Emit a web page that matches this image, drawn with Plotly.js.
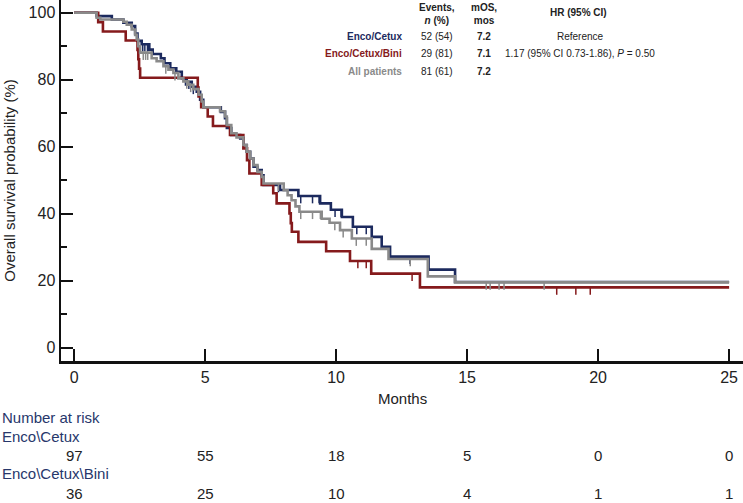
<!DOCTYPE html>
<html>
<head>
<meta charset="utf-8">
<script src="https://cdn.plot.ly/plotly-3.0.1.min.js"></script>
<style>
  html, body { margin: 0; padding: 0; background: #ffffff; }
  #kmChart { width: 743px; height: 503px; }
</style>
</head>
<body>
<div id="kmChart"></div>
<script>
// Kaplan-Meier overall survival

// Enco/Cetux (navy)
const cetuxTime = [0, 0.86, 1.44, 1.88, 2.2, 2.33, 2.42, 2.58, 2.87, 3.0, 3.31, 3.45, 3.67, 3.9, 4.11, 4.3, 4.49, 4.68, 4.81, 4.93,
  5.6, 5.76, 5.83, 6.0, 6.34, 6.46, 6.59, 6.72, 6.85, 7.0, 7.16, 7.23, 7.86, 8.56, 9.39, 9.8, 10.22, 10.64, 11.36, 11.74, 12.06,
  13.53, 14.54, 25];
const cetuxSurv = [100, 99, 98, 97, 96, 93.8, 91.6, 90.6, 89, 87.7, 86.4, 84.9, 83.4, 82.4, 80.4, 79.4, 77.9, 76.4, 74, 71.8,
  70.4, 68.5, 65.6, 63.5, 62.5, 60.5, 58.5, 56.5, 54, 53, 51.5, 48.6, 47.1, 45.3, 43.1, 41.2, 39, 36.1, 33.1, 30.1, 27.2,
  23.3, 19.6, 19.6];
const cetuxCensor = [2.62, 2.7, 2.8, 4.25, 4.38, 4.55, 7.8, 8.65, 9.1, 9.35, 9.96, 10.19, 10.79, 11.15, 12.82];

// Enco/Cetux/Bini (dark red)
const biniTime = [0, 0.92, 1.1, 1.97, 2.42, 2.45, 2.48, 2.52, 4.72, 4.75, 4.85, 5.1, 5.3, 5.95, 6.46, 6.6, 6.69, 7.16, 7.6, 7.73,
  8.22, 8.27, 8.31, 8.56, 9.62, 10.53, 11.34, 13.2, 25];
const biniSurv = [100, 97.2, 94.4, 91.7, 88.9, 86.1, 83.3, 80.6, 77.7, 75, 71.8, 69, 66.2, 63.5, 59.5, 56, 52, 48.6, 46.1, 43.1,
  40.1, 37.2, 34.6, 31.6, 28.8, 25.9, 22.1, 18, 18];
const biniCensor = [10.83, 11.15, 12.9, 18.42, 19.15, 19.7];

// All patients (grey)
const allTime = [0, 0.86, 1.0, 1.88, 2.01, 2.2, 2.33, 2.39, 2.45, 2.52, 2.96, 3.15, 3.41, 3.6, 3.79, 3.98, 4.17, 4.36, 4.55, 4.75,
  4.87, 4.93, 5.57, 5.76, 5.83, 6.0, 6.2, 6.46, 6.59, 6.72, 6.85, 7.0, 7.16, 7.23, 8.0, 8.15, 8.3, 8.45, 8.6, 9.45, 9.75, 10.15,
  10.6, 11.36, 12.0, 13.5, 14.54, 25];
const allSurv = [100, 98.5, 98, 97.3, 96.4, 95, 93.4, 92, 90, 88.1, 86.4, 85.5, 84, 83, 82, 80.4, 79.5, 78.5, 77.2, 75.5,
  73.5, 71.8, 70.6, 69, 66.5, 64, 62.8, 60.5, 58.5, 56.5, 54.5, 52.5, 51, 49, 47, 45.5, 44, 42.2, 40.6, 38.5, 37.3, 35.1,
  32.6, 29.5, 26.5, 21.3, 19.5, 19.5];
const allCensor = [2.64, 2.73, 2.81, 3.5, 3.85, 4.3, 4.45, 7.8, 8.65, 9.1, 9.4, 9.95, 10.27, 10.77, 11.15, 12.83,
  15.73, 15.88, 16.22, 16.41, 17.94];

// Number at risk table
const riskMonths = [0, 5, 10, 15, 20, 25];
const riskCetux = [97, 55, 18, 5, 0, 0];
const riskBini = [36, 25, 10, 4, 1, 1];

// Summary table (top right)
const groupNames = ['Enco/Cetux', 'Enco/Cetux/Bini', 'All patients'];
const groupEvents = ['52 (54)', '29 (81)', '81 (61)'];
const groupMos = ['7.2', '7.1', '7.2'];
const groupHr = ['Reference', '1.17 (95% CI 0.73-1.86), <i>P</i> = 0.50', ''];

const NAVY = '#1c2a5e';
const RED = '#851a1c';
const GREY = '#8a8a8a';
const FONT = 'Liberation Sans, Arial, sans-serif';

// survival value of a step curve just at time t
function stepAt(times, surv, t) {
    let s = surv[0];
    for (let i = 0; i < times.length; i++) {
        if (times[i] <= t) s = surv[i];
    }
    return s;
}

function curve(times, surv, color) {
    return {
        x: times, y: surv,
        mode: 'lines',
        line: { color: color, width: 2.6, shape: 'hv' },
        hoverinfo: 'skip'
    };
}

// censor marks hang down from the curve, drawn as one-sided error bars
function censors(times, surv, cens, color) {
    return {
        x: cens,
        y: cens.map(t => stepAt(times, surv, t)),
        mode: 'markers',
        marker: { size: 1, color: color, opacity: 0 },
        error_y: {
            type: 'data', symmetric: false,
            array: cens.map(() => 0),
            arrayminus: cens.map(() => 2.2),
            width: 0, thickness: 1.5, color: color
        },
        hoverinfo: 'skip'
    };
}

const traces = [
    curve(cetuxTime, cetuxSurv, NAVY),
    censors(cetuxTime, cetuxSurv, cetuxCensor, NAVY),
    curve(biniTime, biniSurv, RED),
    censors(biniTime, biniSurv, biniCensor, RED),
    curve(allTime, allSurv, GREY),
    censors(allTime, allSurv, allCensor, GREY)
];

// paper coords helpers: plot area is 682 x 361 px starting at (61, 0)
const px = x => (x - 61) / 682;
const py = y => (361 - y) / 361;

const annotations = [];
const colors = [NAVY, RED, GREY];

// summary table headers
annotations.push({ xref: 'paper', yref: 'paper', x: px(437), y: py(14), text: '<b>Events,</b><br><b><i>n</i> (%)</b>',
    showarrow: false, xanchor: 'center', yanchor: 'middle', font: { size: 10, color: '#222' } });
annotations.push({ xref: 'paper', yref: 'paper', x: px(484), y: py(14), text: '<b>mOS,</b><br><b>mos</b>',
    showarrow: false, xanchor: 'center', yanchor: 'middle', font: { size: 10, color: '#222' } });
annotations.push({ xref: 'paper', yref: 'paper', x: px(578), y: py(13), text: '<b>HR (95% CI)</b>',
    showarrow: false, xanchor: 'center', yanchor: 'middle', font: { size: 10, color: '#222' } });

const rowY = [36, 53.5, 71];
groupNames.forEach((name, i) => {
    annotations.push({ xref: 'paper', yref: 'paper', x: px(404), y: py(rowY[i]), text: '<b>' + name + '</b>',
        showarrow: false, xanchor: 'right', yanchor: 'middle', font: { size: 10, color: colors[i] } });
    annotations.push({ xref: 'paper', yref: 'paper', x: px(437), y: py(rowY[i]), text: groupEvents[i],
        showarrow: false, xanchor: 'center', yanchor: 'middle', font: { size: 10, color: '#222' } });
    annotations.push({ xref: 'paper', yref: 'paper', x: px(484), y: py(rowY[i]), text: '<b>' + groupMos[i] + '</b>',
        showarrow: false, xanchor: 'center', yanchor: 'middle', font: { size: 10, color: '#222' } });
    if (groupHr[i]) {
        annotations.push({ xref: 'paper', yref: 'paper', x: px(580), y: py(rowY[i]), text: groupHr[i],
            showarrow: false, xanchor: 'center', yanchor: 'middle', font: { size: 10, color: '#222' } });
    }
});

// x axis title
annotations.push({ xref: 'paper', yref: 'paper', x: 0.5, y: py(399), text: 'Months',
    showarrow: false, xanchor: 'center', yanchor: 'middle', font: { size: 15, color: '#222' } });

// number at risk table
const RISK_BLUE = '#27376b';
[['Number at risk', 417], ['Enco\\Cetux', 436], ['Enco\\Cetux\\Bini', 474]].forEach(([label, y]) => {
    annotations.push({ xref: 'paper', yref: 'paper', x: px(0), y: py(y), text: label,
        showarrow: false, xanchor: 'left', yanchor: 'middle', font: { size: 15, color: RISK_BLUE } });
});
riskMonths.forEach((m, i) => {
    annotations.push({ xref: 'x', yref: 'paper', x: m, y: py(455), text: String(riskCetux[i]),
        showarrow: false, xanchor: 'center', yanchor: 'middle', font: { size: 15, color: '#222' } });
    annotations.push({ xref: 'x', yref: 'paper', x: m, y: py(493), text: String(riskBini[i]),
        showarrow: false, xanchor: 'center', yanchor: 'middle', font: { size: 15, color: '#222' } });
});

const layout = {
    width: 743, height: 503,
    margin: { l: 61, r: 0, t: 0, b: 142 },
    paper_bgcolor: '#ffffff',
    plot_bgcolor: '#ffffff',
    font: { family: FONT, color: '#222' },
    showlegend: false,
    xaxis: {
        range: [-0.5, 25.53],
        tickvals: riskMonths,
        ticks: 'inside', ticklen: 12, tickwidth: 2, tickcolor: '#111',
        showline: true, linewidth: 2.5, linecolor: '#111',
        showgrid: false, zeroline: false,
        tickfont: { size: 16, color: '#222' }
    },
    yaxis: {
        range: [-3.97, 103.8],
        tick0: 0, dtick: 20,
        ticks: 'inside', ticklen: 12, tickwidth: 2, tickcolor: '#111',
        minor: { dtick: 10, ticks: 'inside', ticklen: 6, tickwidth: 1.5, tickcolor: '#111' },
        showline: true, linewidth: 2.5, linecolor: '#111',
        showgrid: false, zeroline: false,
        tickfont: { size: 16, color: '#222' },
        title: { text: 'Overall survival probability (%)', font: { size: 15, color: '#222' }, standoff: 10 }
    },
    annotations: annotations
};

Plotly.newPlot('kmChart', traces, layout, { displayModeBar: false, staticPlot: true });
</script>
</body>
</html>
